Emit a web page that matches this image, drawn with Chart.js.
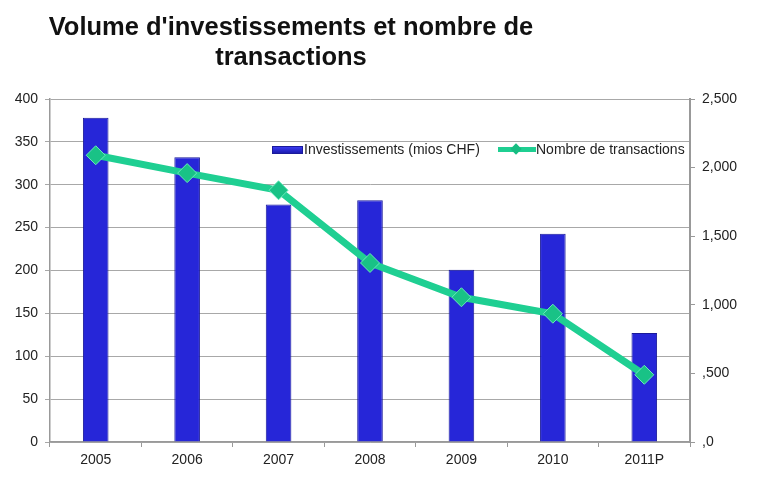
<!DOCTYPE html>
<html>
<head>
<meta charset="utf-8">
<script src="https://cdn.jsdelivr.net/npm/chart.js@4.4.1/dist/chart.umd.min.js"></script>
<style>
  html, body { margin: 0; padding: 0; background: #fff; }
  #wrap { position: relative; width: 757px; height: 491px; }
  #title {
    position: absolute; left: 291px; top: 11px; transform: translateX(-50%);
    font-family: "Liberation Sans", Arial, sans-serif; font-weight: bold;
    font-size: 25.5px; line-height: 30px; text-align: center; color: #111; white-space: nowrap;
  }
  canvas { position: absolute; left: 0; top: 0; }
  .lg { position: absolute; font-family: "Liberation Sans", Arial, sans-serif; font-size: 14px;
        color: #222; line-height: 16px; white-space: nowrap; }
  .sw { position: absolute; }
</style>
</head>
<body>
<div id="wrap">
  <canvas id="c" width="757" height="491"></canvas>
  <div id="title">Volume d'investissements et nombre de<br>transactions</div>
  <div id="legend"></div>
</div>
<script>
const categories = ["2005", "2006", "2007", "2008", "2009", "2010", "2011P"];
const investissements = [378, 332, 277, 282, 201, 243, 127];
const transactions = [2090, 1960, 1835, 1305, 1055, 935, 490];
const leftTicks = [0, 50, 100, 150, 200, 250, 300, 350, 400];
const rightTickLabels = { 0: ",0", 500: ",500", 1000: "1,000", 1500: "1,500", 2000: "2,000", 2500: "2,500" };
const seriesNames = ["Investissements (mios CHF)", "Nombre de transactions"];

const FONT = "'Liberation Sans', Arial, sans-serif";
const LINE_COLOR = "#1fcf92";
const AXIS_COLOR = "#999";

function barGradient(ctx) {
  const chart = ctx.chart;
  const el = ctx.element;
  if (!el || !chart.chartArea) return "#2626d8";
  const x = el.x, w = el.width;
  if (!Number.isFinite(x) || !Number.isFinite(w) || w <= 0) return "#2626d8";
  const g = chart.ctx.createLinearGradient(x - w / 2, 0, x + w / 2, 0);
  g.addColorStop(0, "#1c1ca8");
  g.addColorStop(0.2, "#2a2ae6");
  g.addColorStop(0.8, "#2a2ae6");
  g.addColorStop(1, "#1c1ca8");
  return g;
}

// HTML legend (inside the plot area, as in the reference)
(function buildLegend() {
  const lg = document.getElementById("legend");
  lg.innerHTML =
    '<div class="sw" style="left:272px;top:146px;width:29px;height:6px;background:linear-gradient(#3a3af0,#1c1cb0);border:0.5px solid #1a1a9a;"></div>' +
    '<div class="lg" style="left:304px;top:141px;">' + seriesNames[0] + '</div>' +
    '<div class="sw" style="left:498px;top:147px;width:38px;height:5px;background:' + LINE_COLOR + ';"></div>' +
    '<div class="sw" style="left:512px;top:145px;width:8px;height:8px;background:#17bd82;transform:rotate(45deg);"></div>' +
    '<div class="lg" style="left:536px;top:141px;">' + seriesNames[1] + '</div>';
})();

new Chart(document.getElementById("c"), {
  type: "bar",
  data: {
    labels: categories,
    datasets: [
      {
        type: "line",
        label: seriesNames[1],
        data: transactions,
        yAxisID: "y2",
        borderColor: LINE_COLOR,
        backgroundColor: LINE_COLOR,
        borderWidth: 7,
        pointStyle: "rectRot",
        pointRadius: 9.5,
        pointBackgroundColor: "#19c286",
        pointBorderColor: "#6ae8bb",
        pointBorderWidth: 1,
        tension: 0,
        order: 0
      },
      {
        type: "bar",
        label: seriesNames[0],
        data: investissements,
        yAxisID: "y",
        backgroundColor: barGradient,
        borderColor: "#1a1a9a",
        borderWidth: 1,
        barPercentage: 0.28,
        categoryPercentage: 1,
        order: 1
      }
    ]
  },
  options: {
    responsive: false,
    animation: false,
    layout: { padding: { top: 99, left: 0, right: 0, bottom: 0 } },
    plugins: {
      title: { display: false },
      tooltip: { enabled: false },
      legend: { display: false }
    },
    scales: {
      x: {
        offset: true,
        grid: { display: true, drawOnChartArea: false, drawTicks: true, tickLength: 5, color: AXIS_COLOR, offset: true },
        border: { display: true, color: AXIS_COLOR, width: 1.5 },
        ticks: { font: { family: FONT, size: 14 }, color: "#222", padding: 5 },
        afterFit(s) { s.height = 49; }
      },
      y: {
        position: "left",
        min: 0, max: 400,
        afterBuildTicks(s) { s.ticks = leftTicks.map(v => ({ value: v })); },
        grid: { color: "#a8a8a8", lineWidth: 1, tickLength: 5, drawTicks: true },
        border: { display: true, color: AXIS_COLOR, width: 1.5 },
        ticks: { font: { family: FONT, size: 14 }, color: "#222", padding: 7 },
        afterFit(s) { s.width = 50; }
      },
      y2: {
        position: "right",
        min: 0, max: 2500,
        afterBuildTicks(s) { s.ticks = Object.keys(rightTickLabels).map(v => ({ value: +v })); },
        grid: { drawOnChartArea: false, tickLength: 5, color: AXIS_COLOR },
        border: { display: true, color: AXIS_COLOR, width: 2 },
        ticks: {
          font: { family: FONT, size: 14 }, color: "#222", padding: 7,
          callback(v) { return rightTickLabels[v] !== undefined ? rightTickLabels[v] : ""; }
        },
        afterFit(s) { s.width = 67; }
      }
    }
  }
});
</script>
</body>
</html>
